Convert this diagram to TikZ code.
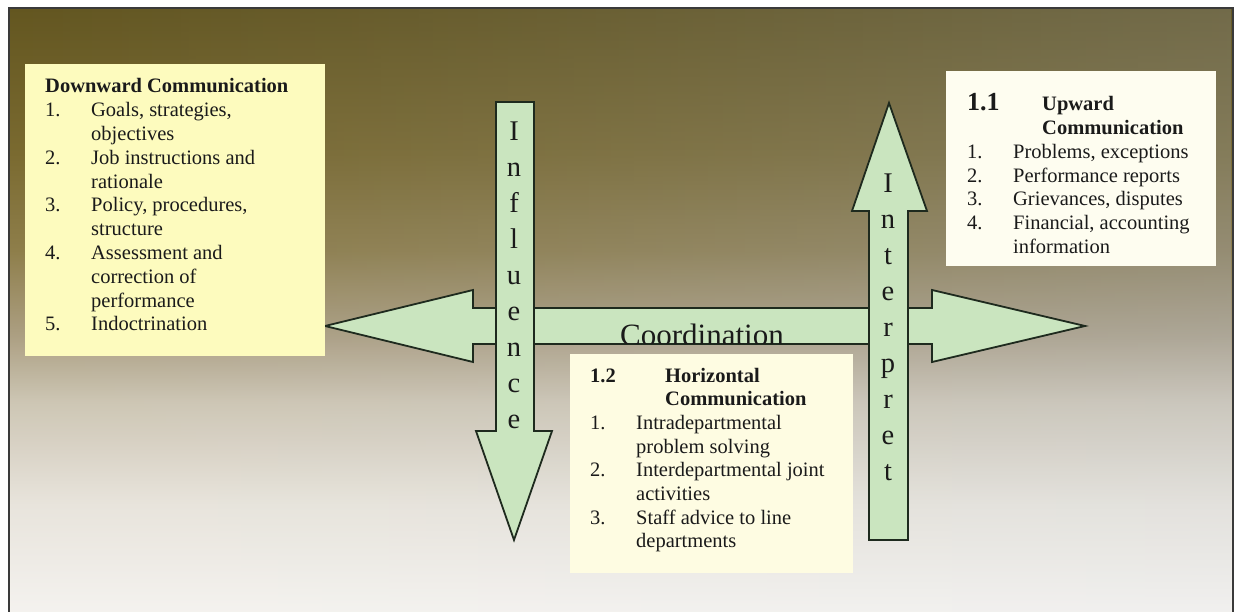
\documentclass[tikz,border=0pt]{standalone}
\usepackage{fontspec}
\setmainfont{Liberation Serif}
\usepackage{tikz}
\usetikzlibrary{fadings}
\definecolor{cmBgA}{HTML}{F5F3EF}
\definecolor{cmBgB}{HTML}{E9E5DC}
\definecolor{cmBgC}{HTML}{CEC6B4}
\definecolor{cmBgD}{HTML}{AC9F82}
\definecolor{cmBgE}{HTML}{8E7E4A}
\definecolor{cmBgF}{HTML}{7A6A30}
\definecolor{cmBgG}{HTML}{635620}
\definecolor{cmGreyA}{HTML}{EFEFEF}
\definecolor{cmGreyB}{HTML}{E0E0DE}
\definecolor{cmGreyC}{HTML}{C9C7C2}
\definecolor{cmGreyD}{HTML}{AEABA3}
\definecolor{cmGreyE}{HTML}{99958A}
\definecolor{cmGreyF}{HTML}{8A8672}
\definecolor{cmGreyG}{HTML}{7A7660}
\definecolor{cmPaleYellow}{HTML}{FDFBBE}
\definecolor{cmCream}{HTML}{FEFDF0}
\definecolor{cmIvory}{HTML}{FEFCE2}
\definecolor{cmArrowFill}{HTML}{CAE5BF}
\definecolor{cmArrowLine}{HTML}{1E2A1E}
\definecolor{cmInk}{HTML}{1A1A1A}
\definecolor{cmFrame}{HTML}{3A3A3A}
% path box is fitted to the 25bp--75bp band of a shading
\pgfdeclareverticalshading{cmBackdrop}{100bp}{color(0bp)=(cmBgA); color(25bp)=(cmBgA); color(34bp)=(cmBgB); color(42.5bp)=(cmBgC); color(48bp)=(cmBgD); color(55bp)=(cmBgE); color(63bp)=(cmBgF); color(75bp)=(cmBgG); color(100bp)=(cmBgG)}
\pgfdeclareverticalshading{cmBackdropGrey}{100bp}{color(0bp)=(cmGreyA); color(25bp)=(cmGreyA); color(34bp)=(cmGreyB); color(42.5bp)=(cmGreyC); color(48bp)=(cmGreyD); color(55bp)=(cmGreyE); color(63bp)=(cmGreyF); color(75bp)=(cmGreyG); color(100bp)=(cmGreyG)}
\tikzfading[name=cmfaderight, left color=transparent!100, right color=transparent!35]
\newlength{\cmindent}
\setlength{\cmindent}{46pt}
\newcommand{\listrow}[2]{\makebox[\cmindent][l]{#1}#2}
\newcommand{\wraprow}[1]{\hspace*{\cmindent}#1}
\begin{document}
\begin{tikzpicture}[x=1pt, y=-1pt,
  panel/.style={inner sep=0pt, anchor=north west},
  listtext/.style={inner sep=0pt, anchor=base west, text=cmInk},
  blockarrow/.style={draw=cmArrowLine, fill=cmArrowFill, line width=1.8pt, line join=miter},
  stack/.style={inner sep=0pt, anchor=base, text=cmInk}
]
\useasboundingbox (0,0) rectangle (1239,612);
% backdrop and frame
\shade[shading=cmBackdrop] (9,8) rectangle (1233,614);
\shade[shading=cmBackdropGrey, path fading=cmfaderight] (9,8) rectangle (1233,614);
\draw[line width=1.2pt, draw=cmFrame] (9,620) -- (9,8) -- (1233,8) -- (1233,620);

% coordination arrow
\draw[blockarrow] (325,326) -- (473,290) -- (473,308) -- (932,308) -- (932,290) -- (1085,326)
  -- (932,362) -- (932,344) -- (473,344) -- (473,362) -- cycle;
\begin{scope}
  \clip (473,308) rectangle (932,343.5);
  \node[inner sep=0pt, anchor=base, text=cmInk, font=\fontsize{31}{31}\selectfont] (coord) at (702,345) {Coordination};
\end{scope}

% influence and interpret arrows
\draw[blockarrow] (496,102) -- (534,102) -- (534,431) -- (552,431) -- (514,540) -- (476,431) -- (496,431) -- cycle;
\draw[blockarrow] (889,103) -- (927,211) -- (908,211) -- (908,540) -- (869,540) -- (869,211) -- (852,211) -- cycle;
\node[stack] (influence) at (514,141)
  {\parbox[t]{30pt}{\centering\fontsize{28.5}{35.9}\selectfont I\\n\\f\\l\\u\\e\\n\\c\\e}};
\node[stack] (interpret) at (888,193)
  {\parbox[t]{30pt}{\centering\fontsize{28.5}{35.9}\selectfont I\\n\\t\\e\\r\\p\\r\\e\\t}};

% text panels
\node[panel, fill=cmPaleYellow, minimum width=300pt, minimum height=292pt] (down) at (25,64) {};
\node[listtext] (downtxt) at ([xshift=20pt,yshift=-29pt]down.north west)
  {\parbox[t]{270pt}{\fontsize{20.5}{23.8}\selectfont
   \textbf{Downward Communication}\\
   \listrow{1.}{Goals, strategies,}\\
   \wraprow{objectives}\\
   \listrow{2.}{Job instructions and}\\
   \wraprow{rationale}\\
   \listrow{3.}{Policy, procedures,}\\
   \wraprow{structure}\\
   \listrow{4.}{Assessment and}\\
   \wraprow{correction of}\\
   \wraprow{performance}\\
   \listrow{5.}{Indoctrination}}};

\node[panel, fill=cmCream, minimum width=270pt, minimum height=195pt] (up) at (946,71) {};
\node[listtext] (uptxt) at ([xshift=21pt,yshift=-40pt]up.north west)
  {\parbox[t]{245pt}{\fontsize{20.5}{23.7}\selectfont
   \makebox[75pt][l]{\fontsize{26}{23.7}\selectfont\bfseries 1.1}\textbf{Upward}\\
   \hspace*{75pt}\textbf{Communication}\\
   \listrow{1.}{Problems, exceptions}\\
   \listrow{2.}{Performance reports}\\
   \listrow{3.}{Grievances, disputes}\\
   \listrow{4.}{Financial, accounting}\\
   \wraprow{information}}};

\node[panel, fill=cmIvory, minimum width=283pt, minimum height=219pt] (horiz) at (570,354) {};
\node[listtext] (horiztxt) at ([xshift=20pt,yshift=-28pt]horiz.north west)
  {\parbox[t]{260pt}{\fontsize{20.5}{23.7}\selectfont
   \makebox[75pt][l]{\bfseries 1.2}\textbf{Horizontal}\\
   \hspace*{75pt}\textbf{Communication}\\
   \listrow{1.}{Intradepartmental}\\
   \wraprow{problem solving}\\
   \listrow{2.}{Interdepartmental joint}\\
   \wraprow{activities}\\
   \listrow{3.}{Staff advice to line}\\
   \wraprow{departments}}};
\end{tikzpicture}
\end{document}
